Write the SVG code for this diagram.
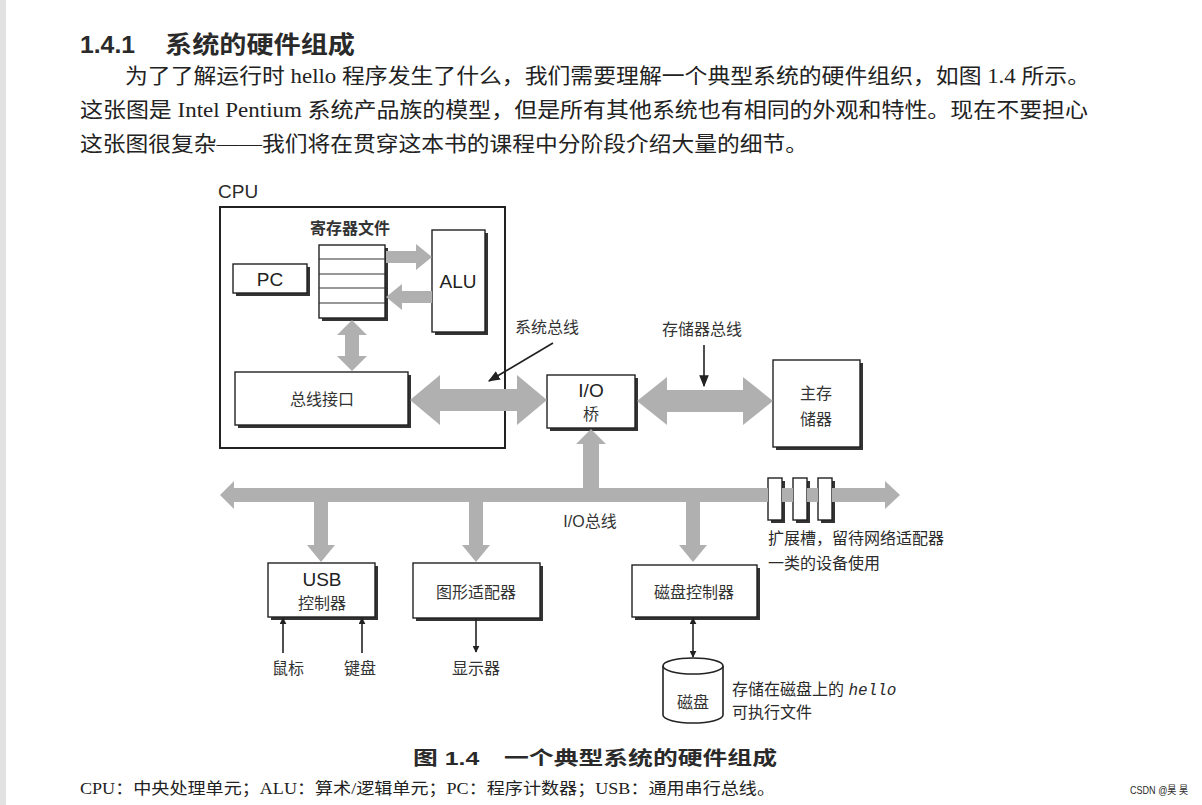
<svg xmlns="http://www.w3.org/2000/svg" width="1202" height="805" viewBox="0 0 1202 805">
<defs>
<style>
.bg{fill:#ffffff}
.sans{font-family:"Liberation Sans","Noto Sans CJK SC",sans-serif;fill:#2a2a2a}
.serif{font-family:"Liberation Serif","Noto Sans CJK SC",serif;fill:#222}
.lbl{font-family:"Liberation Sans","Noto Sans CJK SC",sans-serif;fill:#333;font-size:16px;text-anchor:middle}
.en{font-family:"Liberation Sans","Noto Sans CJK SC",sans-serif;fill:#222;font-size:19px;text-anchor:middle}
.box{fill:#fff;stroke:#222;stroke-width:1.4}
.shadow{fill:#333}
.bus{fill:#b0b0b0}
.line{stroke:#222;stroke-width:1.6;fill:none}
.reg{stroke:#333;stroke-width:1.2}
</style>
<marker id="ah" viewBox="0 0 10 10" refX="9" refY="5" markerWidth="7" markerHeight="7" orient="auto-start-reverse" markerUnits="userSpaceOnUse">
<path d="M0,0 L10,5 L0,10 Z" fill="#222"/>
</marker>
<marker id="ahs" viewBox="0 0 10 10" refX="9" refY="5" markerWidth="12" markerHeight="12" orient="auto-start-reverse" markerUnits="userSpaceOnUse">
<path d="M0,1 L10,5 L0,9 Z" fill="#222"/>
</marker>
</defs>
<rect class="bg" x="0" y="0" width="1202" height="805"/>
<rect x="0" y="0" width="6" height="805" fill="#e2e2e2"/>

<g id="header">
<text class="sans" x="80" y="53" font-size="23" font-weight="bold" textLength="55" lengthAdjust="spacingAndGlyphs">1.4.1</text>
<text class="sans" x="165" y="53" font-size="24" font-weight="bold" textLength="190" lengthAdjust="spacingAndGlyphs">系统的硬件组成</text>
<text class="serif" x="125" y="83" font-size="21" textLength="965" lengthAdjust="spacingAndGlyphs">为了了解运行时 hello 程序发生了什么，我们需要理解一个典型系统的硬件组织，如图 1.4 所示。</text>
<text class="serif" x="80" y="117" font-size="21" textLength="1008" lengthAdjust="spacingAndGlyphs">这张图是 Intel Pentium 系统产品族的模型，但是所有其他系统也有相同的外观和特性。现在不要担心</text>
<text class="serif" x="80" y="151" font-size="21" textLength="728" lengthAdjust="spacingAndGlyphs">这张图很复杂——我们将在贯穿这本书的课程中分阶段介绍大量的细节。</text>
</g>

<g id="cpu">
<text class="sans" x="218" y="198" font-size="19">CPU</text>
<rect x="220" y="207" width="285" height="241" fill="none" stroke="#222" stroke-width="2"/>
</g>

<g id="regfile">
<text class="lbl" x="350" y="234" font-weight="bold">寄存器文件</text>
<rect class="shadow" x="322" y="248" width="66" height="73"/>
<rect class="box" x="319" y="245" width="66" height="73"/>
<line class="reg" x1="319" y1="259" x2="385" y2="259"/>
<line class="reg" x1="319" y1="274" x2="385" y2="274"/>
<line class="reg" x1="319" y1="288" x2="385" y2="288"/>
<line class="reg" x1="319" y1="303" x2="385" y2="303"/>
</g>

<g id="pc">
<rect class="shadow" x="236" y="267" width="74" height="29"/>
<rect class="box" x="233" y="264" width="74" height="29"/>
<text class="en" x="270" y="286">PC</text>
</g>

<g id="alu">
<rect class="shadow" x="435" y="233" width="53" height="102"/>
<rect class="box" x="432" y="230" width="53" height="102"/>
<text class="en" x="458" y="288">ALU</text>
</g>

<g id="businterface">
<rect class="shadow" x="238" y="375" width="173" height="53"/>
<rect class="box" x="235" y="372" width="173" height="53"/>
<text class="lbl" x="322" y="405" font-size="17">总线接口</text>
</g>

<g id="iobridge">
<rect class="shadow" x="550" y="378" width="88" height="53"/>
<rect class="box" x="547" y="375" width="88" height="53"/>
<text class="en" x="591" y="397" font-size="18">I/O</text>
<text class="lbl" x="591" y="420">桥</text>
</g>

<g id="mainmemory">
<rect class="shadow" x="776" y="363" width="87" height="87"/>
<rect class="box" x="773" y="360" width="87" height="87"/>
<text class="lbl" x="816" y="399" font-size="17">主存</text>
<text class="lbl" x="816" y="425" font-size="17">储器</text>
</g>

<g id="usb">
<rect class="shadow" x="271" y="566" width="107" height="54"/>
<rect class="box" x="268" y="563" width="107" height="54"/>
<text class="en" x="322" y="586">USB</text>
<text class="lbl" x="322" y="609">控制器</text>
</g>

<g id="graphics">
<rect class="shadow" x="416" y="566" width="127" height="55"/>
<rect class="box" x="413" y="563" width="127" height="55"/>
<text class="lbl" x="476" y="598">图形适配器</text>
</g>

<g id="diskctrl">
<rect class="shadow" x="635" y="568" width="125" height="52"/>
<rect class="box" x="632" y="565" width="125" height="52"/>
<text class="lbl" x="694" y="598">磁盘控制器</text>
</g>

<g id="disk">
<path d="M663,666 A30,8 0 0 1 723,666 L723,715 A30,8 0 0 1 663,715 Z" fill="#fff" stroke="#222" stroke-width="1.6"/>
<path d="M663,666 A30,8 0 0 0 723,666" fill="none" stroke="#222" stroke-width="1.6"/>
<text class="lbl" x="693" y="708">磁盘</text>
</g>

<g id="slots">
<rect class="shadow" x="771" y="481" width="14" height="42"/>
<rect class="box" x="768" y="478" width="14" height="42"/>
<rect class="shadow" x="796" y="481" width="14" height="42"/>
<rect class="box" x="793" y="478" width="14" height="42"/>
<rect class="shadow" x="821" y="481" width="14" height="42"/>
<rect class="box" x="818" y="478" width="14" height="42"/>
</g>

<g id="connectors">
<polygon class="bus" points="386,251 416,251 416,244 432,257 416,270 416,263 386,263"/>
<polygon class="bus" points="432,291 402,291 402,284 386,297 402,310 402,303 432,303"/>
<polygon class="bus" points="352,320 367,335 359,335 359,356 367,356 352,371 337,356 345,356 345,335 337,335"/>
<polygon class="bus" points="410,400 440,375 440,389 517,389 517,375 547,400 517,425 517,411 440,411 440,425"/>
<polygon class="bus" points="637,401 667,377 667,390 743,390 743,377 773,401 743,425 743,412 667,412 667,425"/>
<polygon class="bus" points="220,495 234,481 234,488 768,488 768,502 234,502 234,509"/>
<polygon class="bus" points="782,488 793,488 793,502 782,502"/>
<polygon class="bus" points="807,488 818,488 818,502 807,502"/>
<polygon class="bus" points="832,488 885,488 885,481 900,495 885,509 885,502 832,502"/>
<polygon class="bus" points="591,429 606,444 599,444 599,488 583,488 583,444 576,444"/>
<polygon class="bus" points="314,502 328,502 328,545 335,545 321,562 307,545 314,545"/>
<polygon class="bus" points="469,502 483,502 483,545 490,545 476,562 462,545 469,545"/>
<polygon class="bus" points="686,502 700,502 700,545 707,545 693,562 679,545 686,545"/>
<line class="line" x1="553" y1="343" x2="489" y2="381" marker-end="url(#ahs)"/>
<line class="line" x1="704" y1="345" x2="704" y2="386" marker-end="url(#ahs)"/>
<line class="line" x1="283" y1="653" x2="283" y2="618" marker-end="url(#ah)"/>
<line class="line" x1="362" y1="653" x2="362" y2="618" marker-end="url(#ah)"/>
<line class="line" x1="476" y1="618" x2="476" y2="652" marker-end="url(#ah)"/>
<line class="line" x1="693" y1="618" x2="693" y2="657" marker-start="url(#ah)" marker-end="url(#ah)"/>
</g>

<g id="labels">
<text class="lbl" x="547" y="333">系统总线</text>
<text class="lbl" x="702" y="335">存储器总线</text>
<text class="lbl" x="590" y="527">I/O总线</text>
<text class="lbl" x="288" y="674">鼠标</text>
<text class="lbl" x="360" y="674">键盘</text>
<text class="lbl" x="476" y="674">显示器</text>
<text class="sans" x="768" y="544" font-size="16" fill="#333">扩展槽，留待网络适配器</text>
<text class="sans" x="768" y="569" font-size="16" fill="#333">一类的设备使用</text>
<text class="sans" x="732" y="695" font-size="16" fill="#333">存储在磁盘上的 <tspan font-family="Liberation Mono,monospace" font-style="italic">hello</tspan></text>
<text class="sans" x="732" y="718" font-size="16" fill="#333">可执行文件</text>
</g>

<g id="caption">
<text class="sans" x="413" y="765" font-size="19" font-weight="bold" textLength="364" lengthAdjust="spacingAndGlyphs">图 1.4　一个典型系统的硬件组成</text>
<text class="serif" x="80" y="794" font-size="16" textLength="695" lengthAdjust="spacingAndGlyphs">CPU：中央处理单元；ALU：算术/逻辑单元；PC：程序计数器；USB：通用串行总线。</text>
<text class="sans" x="1130" y="794" font-size="11" fill="#999" textLength="58" lengthAdjust="spacingAndGlyphs">CSDN @昊 昊</text>
</g>
</svg>
